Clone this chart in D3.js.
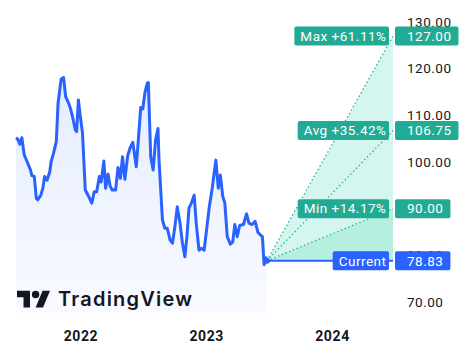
<!DOCTYPE html>
<html>
<head>
<meta charset="utf-8">
<script src="https://cdn.jsdelivr.net/npm/d3@7"></script>
<style>
  body { margin: 0; background: #fff; }
  svg { display: block; font-family: Roboto, sans-serif; }
</style>
</head>
<body>
<div id="chart"></div>
<script>
// weekly-ish closes
const dates = [
  "2021-06-28","2021-07-03","2021-07-09","2021-07-15","2021-07-22","2021-07-30","2021-08-09","2021-08-13",
  "2021-08-20","2021-08-26","2021-08-30","2021-09-08","2021-09-14","2021-09-19","2021-09-26","2021-10-04",
  "2021-10-08","2021-10-15","2021-10-23","2021-10-28","2021-11-02","2021-11-06","2021-11-13","2021-11-19",
  "2021-11-26","2021-12-03","2021-12-10","2021-12-17","2021-12-21","2021-12-26","2021-12-31","2022-01-07",
  "2022-01-15","2022-01-25","2022-02-03","2022-02-10","2022-02-17","2022-02-25","2022-03-02","2022-03-10",
  "2022-03-15","2022-03-22","2022-03-28","2022-04-03","2022-04-13","2022-04-20","2022-04-27","2022-05-03",
  "2022-05-10","2022-05-18","2022-05-25","2022-06-02","2022-06-12","2022-06-18","2022-06-25","2022-07-01",
  "2022-07-07","2022-07-14","2022-07-17","2022-07-24","2022-07-31","2022-08-07","2022-08-14","2022-08-17",
  "2022-08-27","2022-09-03","2022-09-10","2022-09-18","2022-09-25","2022-10-02","2022-10-09","2022-10-17",
  "2022-10-24","2022-10-31","2022-11-06","2022-11-12","2022-11-19","2022-11-27","2022-12-03","2022-12-11",
  "2022-12-18","2022-12-26","2023-01-03","2023-01-10","2023-01-19","2023-01-29","2023-02-05","2023-02-11",
  "2023-02-18","2023-02-24","2023-03-03","2023-03-12","2023-03-19","2023-03-25","2023-04-01","2023-04-08",
  "2023-04-19","2023-04-28","2023-05-05","2023-05-14","2023-05-23","2023-05-31","2023-06-07","2023-06-13",
  "2023-06-18","2023-06-23","2023-06-26"
];
const prices = [
  105.2,104.9,103.8,105.2,101.5,100.1,98.3,97.1,
  96.9,92.2,91.9,92.9,94.4,96.9,96.1,97.9,
  100.1,101.9,104.4,112.6,115.4,117.8,118.1,114.0,
  112.9,111.5,109.4,106.9,106.5,113.3,110.1,106.2,
  94.0,92.6,91.2,93.6,93.6,96.9,95.7,100.2,
  94.4,97.4,94.9,94.0,94.0,98.8,96.5,101.1,
  96.3,101.3,103.0,104.2,99.0,104.7,111.7,111.4,
  114.8,116.9,117.0,101.1,98.3,104.7,107.2,100.4,
  87.6,85.8,85.8,83.3,82.6,86.1,90.4,86.9,
  82.6,79.7,84.0,90.1,91.2,92.9,86.9,81.1,
  81.5,81.1,86.1,90.4,94.7,100.4,94.4,97.2,
  92.6,91.2,84.0,82.4,82.9,86.6,84.0,86.4,
  86.6,88.9,86.9,86.6,87.3,84.9,84.4,84.0,
  78.0,79.5,78.83
];

// analyst targets
const targetNames = ["Max", "Avg", "Min"];
const targetValues = [127.00, 106.75, 90.00];

const yTicks = [70, 80, 90, 100, 110, 120, 130];
const yearTicks = ["2022-01-01", "2023-01-01", "2024-01-01"];

const width = 467, height = 351;
const plotBottom = 313;
const blue = "#2962ff", teal = "#22ab94", ink = "#131722";

const parse = d3.timeParse("%Y-%m-%d");
const data = dates.map((d, i) => ({ date: parse(d), value: prices[i] }));
const last = data[data.length - 1];
const targetDate = d3.timeYear.offset(last.date, 1);

const x = d3.scaleTime()
    .domain([data[0].date, targetDate])
    .range([16, 393]);

const y = d3.scaleLinear()
    .domain([130, 70])
    .range([22, 302]);

const svg = d3.select("#chart")
    .append("svg")
    .attr("width", width)
    .attr("height", height);

const defs = svg.append("defs");
const grad = defs.append("linearGradient")
    .attr("id", "areaGrad")
    .attr("gradientUnits", "userSpaceOnUse")
    .attr("x1", 0).attr("x2", 0)
    .attr("y1", y(d3.max(prices))).attr("y2", plotBottom);
grad.append("stop").attr("offset", 0).attr("stop-color", blue).attr("stop-opacity", 0.12);
grad.append("stop").attr("offset", 1).attr("stop-color", blue).attr("stop-opacity", 0.03);

// area under price
svg.append("path")
    .datum(data)
    .attr("fill", "url(#areaGrad)")
    .attr("d", d3.area()
        .x(d => x(d.date))
        .y0(plotBottom)
        .y1(d => y(d.value)));

// forecast cone
const lx = x(last.date), ly = y(last.value), ex = x(targetDate);
const maxV = targetValues[0], minV = targetValues[2];

svg.append("path")
    .attr("fill", "#d5f6ef")
    .attr("d", d3.line()([[lx, ly], [ex, y(maxV)], [ex, y(minV)]]));

svg.append("path")
    .attr("fill", "#b4efe0")
    .attr("d", d3.line()([[lx, ly], [ex, y(minV)], [ex, ly]]));

targetValues.forEach(v => {
    svg.append("line")
        .attr("x1", lx).attr("y1", ly)
        .attr("x2", ex).attr("y2", y(v))
        .attr("stroke", teal)
        .attr("stroke-width", 1.2)
        .attr("stroke-dasharray", "1.5,2.5");
});

// current price line
svg.append("line")
    .attr("x1", lx).attr("y1", ly)
    .attr("x2", ex).attr("y2", ly)
    .attr("stroke", blue)
    .attr("stroke-width", 2);

// price line
svg.append("path")
    .datum(data)
    .attr("fill", "none")
    .attr("stroke", blue)
    .attr("stroke-width", 3)
    .attr("stroke-linejoin", "round")
    .attr("d", d3.line()
        .x(d => x(d.date))
        .y(d => y(d.value)));

svg.append("circle")
    .attr("cx", lx).attr("cy", ly).attr("r", 3)
    .attr("fill", blue);

// y axis
const yAxis = svg.append("g")
    .attr("transform", "translate(407,0)")
    .call(d3.axisRight(y).tickValues(yTicks).tickFormat(d3.format(".2f")).tickSize(0).tickPadding(0));
yAxis.select(".domain").remove();
yAxis.selectAll("text")
    .attr("dy", "0.3em")
    .style("font-family", "Roboto, sans-serif")
    .style("font-size", "13.5px")
    .style("letter-spacing", "0.5px")
    .attr("fill", ink);

// x axis
const xAxis = svg.append("g")
    .attr("transform", `translate(0,${plotBottom})`)
    .call(d3.axisBottom(x).tickValues(yearTicks.map(parse)).tickFormat(d3.timeFormat("%Y")).tickSize(0).tickPadding(18));
xAxis.select(".domain").remove();
xAxis.selectAll("text")
    .style("font-family", "Roboto, sans-serif")
    .style("font-size", "14px")
    .style("font-weight", "bold")
    .style("letter-spacing", "0.6px")
    .attr("fill", ink);

// labels on the right
const pct = d3.format("+.2f");
const labels = targetNames.map((n, i) => ({
    name: `${n} ${pct((targetValues[i] / last.value - 1) * 100)}%`,
    value: targetValues[i],
    color: teal
}));
labels.push({ name: "Current", value: last.value, color: blue });

const tag = svg.append("g").selectAll("g")
    .data(labels)
    .enter().append("g")
    .attr("transform", d => `translate(0,${y(d.value)})`);

tag.each(function(d) {
    const g = d3.select(this);
    const nameBox = g.append("rect");
    const nameText = g.append("text")
        .attr("x", 386.5)
        .attr("y", 0)
        .attr("dy", "0.35em")
        .attr("text-anchor", "end")
        .attr("fill", "#fff")
        .style("font-size", "13.5px")
        .style("letter-spacing", "0.5px")
        .text(d.name);
    const nw = nameText.node().getComputedTextLength();
    nameBox.attr("x", 386.5 - nw - 6).attr("y", -9.5)
        .attr("width", nw + 8.5).attr("height", 19)
        .attr("rx", 2).attr("fill", d.color);

    const valBox = g.append("rect");
    const valText = g.append("text")
        .attr("x", 407)
        .attr("y", 0)
        .attr("dy", "0.35em")
        .attr("fill", "#fff")
        .style("font-size", "13.5px")
        .style("letter-spacing", "0.5px")
        .text(d3.format(".2f")(d.value));
    const vw = valText.node().getComputedTextLength();
    valBox.attr("x", 395).attr("y", -9.5)
        .attr("width", vw + 19).attr("height", 19)
        .attr("rx", 2).attr("fill", d.color);
});

// watermark
const logo = svg.append("g")
    .attr("transform", "translate(17,287) scale(0.93)")
    .attr("fill", ink);
logo.append("path").attr("d", "M14 22H7V11H0V4h14v18z");
logo.append("path").attr("d", "M28 22h-8l7.5-18h8L28 22z");
logo.append("circle").attr("cx", 20).attr("cy", 8).attr("r", 4);

svg.append("text")
    .attr("x", 58)
    .attr("y", 306)
    .attr("fill", ink)
    .attr("textLength", 134)
    .style("font-family", "Inter, sans-serif")
    .style("font-size", "20px")
    .style("font-weight", "600")
    .text("TradingView");
</script>
</body>
</html>
